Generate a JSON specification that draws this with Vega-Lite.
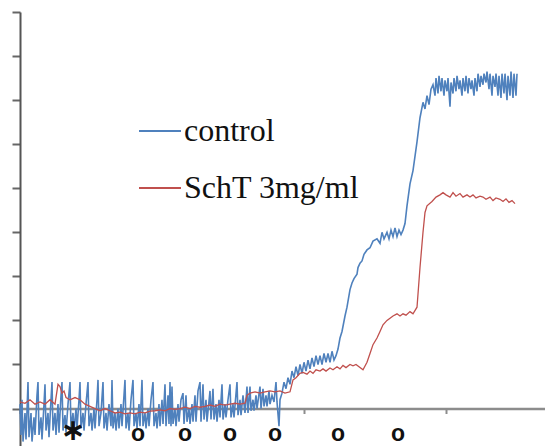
{
  "$schema": "https://vega.github.io/schema/vega-lite/v6.json",
  "autosize": "none",
  "padding": {"left": 20, "top": 12, "right": 0, "bottom": 0},
  "width": 525,
  "height": 434,
  "background": "white",
  "config": {"view": {"stroke": null}},
  "datasets": {
    "control": [
      {"t":0,"v":0.1},{"t":1,"v":-0.6},{"t":2,"v":0.2},{"t":3,"v":-0.75},{"t":5,"v":-0.1},{"t":6,"v":-0.7},{"t":8,"v":0.6},{"t":9,"v":-0.65},{"t":11,"v":-0.1},{"t":12,"v":-0.75},{"t":14,"v":-0.2},{"t":15,"v":-0.6},{"t":17,"v":0.3},{"t":18,"v":0.6},{"t":19,"v":-0.6},{"t":21,"v":-0.2},{"t":22,"v":-0.7},{"t":24,"v":0.1},{"t":25,"v":0.55},{"t":26,"v":-0.5},{"t":28,"v":-0.1},{"t":29,"v":-0.65},{"t":31,"v":0.2},{"t":32,"v":0.6},{"t":33,"v":-0.5},{"t":35,"v":-0.1},{"t":36,"v":-0.6},{"t":38,"v":0.1},{"t":39,"v":-0.55},{"t":41,"v":0.3},{"t":42,"v":0.6},{"t":43,"v":-0.5},{"t":45,"v":-0.15},{"t":46,"v":-0.55},{"t":48,"v":0.1},{"t":50,"v":0.6},{"t":51,"v":-0.45},{"t":53,"v":-0.1},{"t":54,"v":-0.5},{"t":56,"v":0.0},{"t":57,"v":-0.45},{"t":59,"v":0.2},{"t":60,"v":0.6},{"t":61,"v":-0.45},{"t":63,"v":-0.1},{"t":64,"v":-0.5},{"t":66,"v":0.1},{"t":68,"v":0.6},{"t":69,"v":-0.4},{"t":71,"v":-0.1},{"t":72,"v":-0.5},{"t":74,"v":0.0},{"t":75,"v":-0.45},{"t":77,"v":0.2},{"t":78,"v":0.65},{"t":79,"v":-0.4},{"t":81,"v":-0.1},{"t":83,"v":0.6},{"t":84,"v":-0.45},{"t":86,"v":-0.1},{"t":87,"v":-0.5},{"t":89,"v":0.1},{"t":91,"v":-0.4},{"t":92,"v":0.65},{"t":93,"v":-0.45},{"t":95,"v":-0.1},{"t":96,"v":-0.5},{"t":98,"v":0.0},{"t":99,"v":-0.45},{"t":101,"v":0.1},{"t":102,"v":-0.4},{"t":104,"v":0.3},{"t":105,"v":0.65},{"t":106,"v":-0.45},{"t":108,"v":-0.1},{"t":109,"v":-0.5},{"t":111,"v":0.2},{"t":113,"v":0.65},{"t":114,"v":-0.4},{"t":116,"v":-0.1},{"t":117,"v":-0.45},{"t":119,"v":0.1},{"t":120,"v":-0.4},{"t":122,"v":0.65},{"t":123,"v":-0.4},{"t":125,"v":-0.1},{"t":126,"v":-0.45},{"t":128,"v":0.0},{"t":129,"v":-0.4},{"t":131,"v":0.2},{"t":133,"v":0.6},{"t":134,"v":-0.4},{"t":136,"v":-0.1},{"t":137,"v":-0.45},{"t":139,"v":0.1},{"t":140,"v":-0.4},{"t":142,"v":0.2},{"t":143,"v":-0.35},{"t":145,"v":0.55},{"t":146,"v":-0.4},{"t":148,"v":0.3},{"t":149,"v":-0.35},{"t":150,"v":0.6},{"t":151,"v":-0.4},{"t":152,"v":0.5},{"t":153,"v":-0.35},{"t":155,"v":0.0},{"t":156,"v":-0.4},{"t":158,"v":0.1},{"t":159,"v":-0.3},{"t":161,"v":0.2},{"t":163,"v":0.35},{"t":164,"v":-0.35},{"t":166,"v":0.3},{"t":167,"v":-0.3},{"t":169,"v":0.0},{"t":170,"v":-0.35},{"t":172,"v":0.1},{"t":173,"v":-0.3},{"t":175,"v":0.3},{"t":176,"v":-0.3},{"t":178,"v":0.4},{"t":180,"v":0.6},{"t":181,"v":-0.3},{"t":183,"v":0.55},{"t":184,"v":-0.25},{"t":186,"v":0.2},{"t":187,"v":-0.3},{"t":190,"v":0.4},{"t":191,"v":-0.25},{"t":193,"v":0.45},{"t":194,"v":-0.25},{"t":196,"v":0.1},{"t":197,"v":-0.3},{"t":199,"v":0.2},{"t":200,"v":-0.2},{"t":202,"v":0.55},{"t":203,"v":-0.25},{"t":205,"v":0.1},{"t":206,"v":-0.2},{"t":208,"v":0.2},{"t":210,"v":0.55},{"t":211,"v":-0.2},{"t":213,"v":0.1},{"t":214,"v":-0.2},{"t":217,"v":0.6},{"t":218,"v":-0.15},{"t":220,"v":0.2},{"t":221,"v":-0.15},{"t":223,"v":0.3},{"t":225,"v":-0.1},{"t":227,"v":0.5},{"t":228,"v":-0.1},{"t":230,"v":0.5},{"t":231,"v":-0.05},{"t":233,"v":0.2},{"t":234,"v":-0.05},{"t":236,"v":0.3},{"t":237,"v":0.0},{"t":240,"v":0.5},{"t":241,"v":0.0},{"t":243,"v":0.45},{"t":244,"v":0.05},{"t":246,"v":0.3},{"t":247,"v":0.05},{"t":249,"v":0.4},{"t":250,"v":0.1},{"t":252,"v":0.3},{"t":254,"v":0.15},{"t":256,"v":0.6},{"t":257,"v":0.15},{"t":259,"v":-0.4},{"t":260,"v":0.2},{"t":262,"v":0.35},{"t":264,"v":0.6},{"t":266,"v":0.45},{"t":268,"v":0.7},{"t":270,"v":0.55},{"t":272,"v":0.85},{"t":274,"v":0.7},{"t":276,"v":0.95},{"t":278,"v":0.75},{"t":280,"v":1.0},{"t":282,"v":0.8},{"t":284,"v":1.05},{"t":286,"v":0.85},{"t":288,"v":1.1},{"t":290,"v":0.9},{"t":292,"v":1.15},{"t":294,"v":0.95},{"t":296,"v":1.2},{"t":298,"v":1.0},{"t":300,"v":1.2},{"t":302,"v":1.0},{"t":304,"v":1.25},{"t":306,"v":1.05},{"t":308,"v":1.25},{"t":310,"v":1.05},{"t":312,"v":1.3},{"t":314,"v":1.1},{"t":316,"v":1.2},{"t":318,"v":1.35},{"t":320,"v":1.6},{"t":322,"v":1.75},{"t":325,"v":2.1},{"t":327,"v":2.3},{"t":330,"v":2.7},{"t":332,"v":2.85},{"t":334,"v":2.95},{"t":337,"v":3.05},{"t":338,"v":3.2},{"t":340,"v":3.3},{"t":342,"v":3.35},{"t":344,"v":3.5},{"t":347,"v":3.6},{"t":350,"v":3.65},{"t":353,"v":3.8},{"t":357,"v":3.85},{"t":360,"v":3.75},{"t":362,"v":4.0},{"t":364,"v":3.85},{"t":367,"v":4.0},{"t":369,"v":3.85},{"t":371,"v":4.05},{"t":373,"v":3.9},{"t":375,"v":4.1},{"t":377,"v":3.9},{"t":379,"v":4.05},{"t":381,"v":3.95},{"t":383,"v":4.05},{"t":385,"v":4.2},{"t":387,"v":4.6},{"t":390,"v":5.1},{"t":393,"v":5.4},{"t":397,"v":6.05},{"t":400,"v":6.6},{"t":403,"v":6.95},{"t":405,"v":6.8},{"t":407,"v":7.1},{"t":409,"v":6.9},{"t":411,"v":7.25},{"t":413,"v":7.35},{"t":415,"v":7.1},{"t":416,"v":7.5},{"t":418,"v":7.15},{"t":419,"v":7.55},{"t":421,"v":7.2},{"t":422,"v":7.5},{"t":424,"v":7.1},{"t":425,"v":7.45},{"t":427,"v":7.2},{"t":428,"v":7.5},{"t":430,"v":6.85},{"t":431,"v":7.4},{"t":433,"v":7.15},{"t":434,"v":7.5},{"t":436,"v":7.2},{"t":437,"v":7.55},{"t":439,"v":7.25},{"t":440,"v":7.45},{"t":442,"v":7.1},{"t":443,"v":7.5},{"t":445,"v":7.2},{"t":446,"v":7.55},{"t":448,"v":7.15},{"t":449,"v":7.5},{"t":451,"v":7.25},{"t":452,"v":7.45},{"t":454,"v":7.1},{"t":455,"v":7.5},{"t":457,"v":7.2},{"t":458,"v":7.6},{"t":460,"v":7.3},{"t":461,"v":7.55},{"t":463,"v":7.35},{"t":464,"v":7.6},{"t":466,"v":7.4},{"t":467,"v":7.65},{"t":469,"v":7.25},{"t":470,"v":7.6},{"t":472,"v":7.1},{"t":473,"v":7.55},{"t":475,"v":7.3},{"t":476,"v":7.6},{"t":478,"v":7.1},{"t":479,"v":7.55},{"t":481,"v":7.05},{"t":482,"v":7.6},{"t":484,"v":7.15},{"t":485,"v":7.6},{"t":487,"v":7.0},{"t":488,"v":7.55},{"t":490,"v":7.1},{"t":491,"v":7.65},{"t":493,"v":7.05},{"t":494,"v":7.6},{"t":496,"v":7.1},{"t":497,"v":7.6}
    ],
    "scht": [
      {"t":0,"v":0.15},{"t":5,"v":0.12},{"t":10,"v":0.2},{"t":15,"v":0.1},{"t":20,"v":0.15},{"t":25,"v":0.1},{"t":30,"v":0.2},{"t":35,"v":0.1},{"t":38,"v":0.55},{"t":40,"v":0.5},{"t":42,"v":0.35},{"t":44,"v":0.4},{"t":46,"v":0.25},{"t":50,"v":0.2},{"t":55,"v":0.25},{"t":60,"v":0.2},{"t":65,"v":0.1},{"t":70,"v":0.05},{"t":75,"v":0.0},{"t":80,"v":-0.05},{"t":85,"v":0.0},{"t":90,"v":-0.05},{"t":95,"v":-0.1},{"t":100,"v":-0.08},{"t":105,"v":-0.12},{"t":110,"v":-0.1},{"t":115,"v":-0.12},{"t":120,"v":-0.08},{"t":125,"v":-0.1},{"t":130,"v":-0.06},{"t":135,"v":-0.05},{"t":140,"v":-0.03},{"t":145,"v":-0.05},{"t":150,"v":0.0},{"t":155,"v":-0.02},{"t":160,"v":0.0},{"t":165,"v":0.03},{"t":170,"v":0.0},{"t":175,"v":0.05},{"t":180,"v":0.03},{"t":185,"v":0.05},{"t":190,"v":0.08},{"t":195,"v":0.05},{"t":200,"v":0.1},{"t":205,"v":0.08},{"t":210,"v":0.1},{"t":215,"v":0.12},{"t":220,"v":0.1},{"t":225,"v":0.12},{"t":227,"v":0.3},{"t":230,"v":0.35},{"t":235,"v":0.38},{"t":240,"v":0.35},{"t":245,"v":0.38},{"t":250,"v":0.4},{"t":255,"v":0.38},{"t":260,"v":0.4},{"t":265,"v":0.35},{"t":270,"v":0.38},{"t":273,"v":0.65},{"t":276,"v":0.7},{"t":280,"v":0.8},{"t":283,"v":0.82},{"t":287,"v":0.78},{"t":290,"v":0.85},{"t":293,"v":0.8},{"t":296,"v":0.88},{"t":300,"v":0.85},{"t":303,"v":0.9},{"t":306,"v":0.85},{"t":310,"v":0.92},{"t":313,"v":0.88},{"t":317,"v":0.95},{"t":320,"v":0.9},{"t":323,"v":0.98},{"t":326,"v":0.93},{"t":330,"v":1.0},{"t":333,"v":0.97},{"t":336,"v":1.0},{"t":343,"v":0.88},{"t":347,"v":1.05},{"t":350,"v":1.25},{"t":353,"v":1.45},{"t":357,"v":1.6},{"t":360,"v":1.75},{"t":363,"v":1.9},{"t":367,"v":2.0},{"t":370,"v":2.05},{"t":373,"v":2.1},{"t":377,"v":2.15},{"t":380,"v":2.1},{"t":383,"v":2.15},{"t":386,"v":2.12},{"t":390,"v":2.2},{"t":393,"v":2.15},{"t":397,"v":2.3},{"t":400,"v":3.2},{"t":403,"v":4.0},{"t":405,"v":4.45},{"t":407,"v":4.6},{"t":412,"v":4.7},{"t":416,"v":4.8},{"t":420,"v":4.85},{"t":423,"v":4.9},{"t":426,"v":4.85},{"t":430,"v":4.8},{"t":433,"v":4.9},{"t":436,"v":4.82},{"t":440,"v":4.88},{"t":443,"v":4.8},{"t":447,"v":4.85},{"t":450,"v":4.8},{"t":453,"v":4.85},{"t":456,"v":4.78},{"t":460,"v":4.82},{"t":463,"v":4.8},{"t":466,"v":4.75},{"t":470,"v":4.8},{"t":473,"v":4.72},{"t":476,"v":4.78},{"t":480,"v":4.75},{"t":483,"v":4.7},{"t":486,"v":4.76},{"t":489,"v":4.68},{"t":492,"v":4.72},{"t":495,"v":4.65}
    ],
    "markers": [
      {"t":53,"label":"∗"},{"t":118,"label":"o"},{"t":165,"label":"o"},{"t":210,"label":"o"},{"t":255,"label":"o"},{"t":318,"label":"o"},{"t":378,"label":"o"}
    ]
  },
  "layer": [
    {
      "data": {"name": "control"},
      "mark": {"type": "line", "strokeWidth": 1.6},
      "encoding": {
        "x": {"field": "t", "type": "quantitative", "scale": {"domain": [0, 525], "nice": false, "zero": false},
              "axis": {"values": [0, 142, 284, 426], "labels": false, "title": null, "grid": false, "offset": -37.5, "domainColor": "#8c8c8c", "domainWidth": 2.5, "tickColor": "#8c8c8c", "tickWidth": 2, "tickSize": 5}},
        "y": {"field": "v", "type": "quantitative", "scale": {"domain": [-0.85, 9], "nice": false, "zero": false},
              "axis": {"values": [0, 1, 2, 3, 4, 5, 6, 7, 8, 9], "labels": false, "title": null, "grid": false, "domainColor": "#555555", "domainWidth": 2, "tickColor": "#666666", "tickWidth": 2, "tickSize": 8}},
        "color": {"datum": "control", "type": "nominal",
                  "scale": {"domain": ["control", "SchT 3mg/ml"], "range": ["#4f81bd", "#c0504d"]},
                  "legend": {"title": null, "orient": "none", "legendX": 118, "legendY": 97, "symbolType": "stroke", "symbolSize": 1764, "symbolStrokeWidth": 2, "labelFont": "Liberation Serif", "labelFontSize": 32, "labelColor": "#111111", "labelOffset": 2, "rowPadding": 19, "labelLimit": 400}}
      }
    },
    {
      "data": {"name": "scht"},
      "mark": {"type": "line", "strokeWidth": 1.3},
      "encoding": {
        "x": {"field": "t", "type": "quantitative"},
        "y": {"field": "v", "type": "quantitative"},
        "color": {"datum": "SchT 3mg/ml", "type": "nominal"}
      }
    },
    {
      "data": {"name": "markers"},
      "transform": [{"filter": "datum.label === 'o'"}],
      "mark": {"type": "text", "font": "Liberation Sans", "fontWeight": "bold", "fontSize": 23, "baseline": "middle", "align": "center", "dy": -1, "color": "#111111"},
      "encoding": {
        "x": {"field": "t", "type": "quantitative"},
        "y": {"datum": -0.6},
        "text": {"field": "label"}
      }
    },
    {
      "data": {"name": "markers"},
      "transform": [{"filter": "datum.label !== 'o'"}],
      "mark": {"type": "text", "font": "DejaVu Sans", "fontWeight": "bold", "fontSize": 30, "baseline": "middle", "align": "center", "dy": -4, "color": "#111111"},
      "encoding": {
        "x": {"field": "t", "type": "quantitative"},
        "y": {"datum": -0.6},
        "text": {"field": "label"}
      }
    }
  ]
}
